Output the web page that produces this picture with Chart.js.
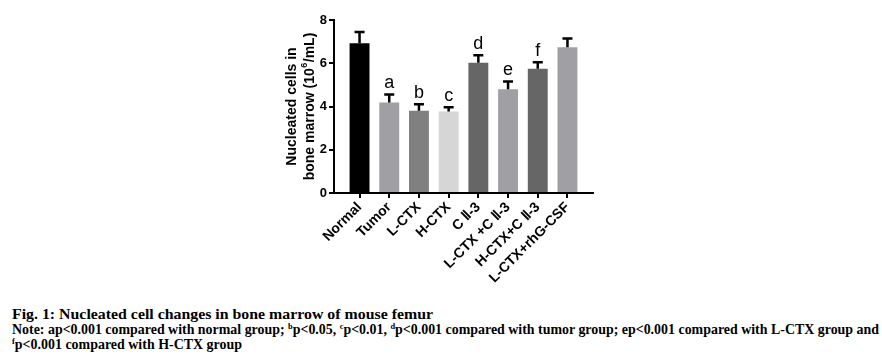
<!DOCTYPE html>
<html lang="en">
  <head>
    <meta charset="UTF-8" />
    <title>Nucleated cells</title>
    <script src="https://cdn.jsdelivr.net/npm/chart.js"></script>
    <style>
      html, body { margin: 0; padding: 0; background: #fff; }
      #wrap { position: relative; width: 882px; height: 363px; }
      #box { position: absolute; left: 0; top: 0; width: 882px; height: 300px; }
      .cap {
        position: absolute;
        left: 12px;
        font-family: "Liberation Serif", "Times New Roman", serif;
        font-weight: bold;
        font-size: 15px;
        line-height: 15px;
        white-space: nowrap;
        color: #000;
        transform-origin: 0 0;
      }
      .cap sup { font-size: 9px; vertical-align: 5px; line-height: 0; }
    </style>
  </head>
  <body>
    <div id="wrap">
      <div id="box"><canvas id="myChart"></canvas></div>
      <div class="cap" data-w="421" style="top:307px">Fig. 1: Nucleated cell changes in bone marrow of mouse femur</div>
      <div class="cap" data-w="867" style="top:322px">Note: ap&lt;0.001 compared with normal group; <sup>b</sup>p&lt;0.05, <sup>c</sup>p&lt;0.01, <sup>d</sup>p&lt;0.001 compared with tumor group; ep&lt;0.001 compared with L-CTX group and</div>
      <div class="cap" data-w="230" style="top:337px"><sup>f</sup>p&lt;0.001 compared with H-CTX group</div>
    </div>
    <script>
      // chart data
      const groups = ["Normal", "Tumor", "L-CTX", "H-CTX", "C \u2161-3", "L-CTX +C \u2161-3", "H-CTX+C \u2161-3", "L-CTX+rhG-CSF"];
      const means = [6.92, 4.18, 3.8, 3.77, 6.02, 4.8, 5.75, 6.74];
      const errors = [0.52, 0.38, 0.3, 0.2, 0.35, 0.36, 0.3, 0.4];
      const marks = ["", "a", "b", "c", "d", "e", "f", ""];
      const colors = ["#000000", "#a0a0a4", "#808080", "#d6d6d6", "#666666", "#a0a0a4", "#666666", "#a0a0a4"];
      const yTicks = [0, 2, 4, 6, 8];
      const yTitle = ["Nucleated cells in", "bone marrow (10", "6", "/mL)"];

      const points = means.map((v, i) => ({ x: i, y: v }));
      const sans = "'Liberation Sans', Arial, sans-serif";

      // error bars + significance letters
      const errorBars = {
        id: "errorBars",
        afterDatasetsDraw(chart) {
          const ctx = chart.ctx;
          const meta = chart.getDatasetMeta(0);
          const yScale = chart.scales.y;
          ctx.save();
          ctx.strokeStyle = "#000";
          ctx.fillStyle = "#000";
          ctx.lineWidth = 2.5;
          meta.data.forEach((bar, i) => {
            const top = yScale.getPixelForValue(means[i] + errors[i]);
            ctx.beginPath();
            ctx.moveTo(bar.x, bar.y);
            ctx.lineTo(bar.x, top);
            ctx.moveTo(bar.x - 5, top);
            ctx.lineTo(bar.x + 5, top);
            ctx.stroke();
            if (marks[i]) {
              ctx.font = "18px " + sans;
              ctx.textAlign = "center";
              ctx.textBaseline = "alphabetic";
              ctx.fillText(marks[i], bar.x, top - 6);
            }
          });
          ctx.restore();
        }
      };

      // two-line y title with a real superscript
      const yTitlePlugin = {
        id: "yTitle",
        afterDraw(chart) {
          const ctx = chart.ctx;
          const area = chart.chartArea;
          const cy = (area.top + area.bottom) / 2;
          const big = "bold 14px " + sans;
          const small = "bold 9px " + sans;
          ctx.save();
          ctx.fillStyle = "#000";
          ctx.textBaseline = "middle";
          ctx.translate(292.5, cy);
          ctx.rotate(-Math.PI / 2);
          ctx.font = big;
          ctx.textAlign = "center";
          ctx.fillText(yTitle[0], 0, 0);
          // second line
          ctx.font = big;
          const w1 = ctx.measureText(yTitle[1]).width;
          const w3 = ctx.measureText(yTitle[3]).width;
          ctx.font = small;
          const w2 = ctx.measureText(yTitle[2]).width + 1;
          let x = -(w1 + w2 + w3) / 2;
          const y = 17.5;
          ctx.textAlign = "left";
          ctx.font = big;
          ctx.fillText(yTitle[1], x, y);
          x += w1;
          ctx.font = small;
          ctx.fillText(yTitle[2], x + 0.5, y - 5);
          x += w2;
          ctx.font = big;
          ctx.fillText(yTitle[3], x, y);
          ctx.restore();
        }
      };

      const ctx = document.getElementById("myChart").getContext("2d");
      const myChart = new Chart(ctx, {
        type: "bar",
        data: {
          datasets: [{
            data: points,
            backgroundColor: colors,
            borderWidth: 0,
            categoryPercentage: 1,
            barPercentage: 0.67
          }]
        },
        options: {
          responsive: true,
          maintainAspectRatio: false,
          animation: false,
          layout: { padding: { left: 284, top: 20, right: 289, bottom: 0 } },
          plugins: { legend: { display: false }, tooltip: { enabled: false } },
          scales: {
            x: {
              type: "linear",
              offset: false,
              min: -0.86,
              max: 7.86,
              afterBuildTicks: (scale) => { scale.ticks = groups.map((g, i) => ({ value: i })); },
              afterFit: (scale) => { scale.height = 107; },
              grid: { display: true, offset: false, drawOnChartArea: false, drawTicks: true, tickLength: 5, color: "#000", lineWidth: 2 },
              border: { display: true, color: "#000", width: 2 },
              ticks: {
                autoSkip: false,
                minRotation: 45,
                maxRotation: 45,
                padding: 1,
                color: "#000",
                font: { family: sans, size: 14, weight: "bold" },
                callback: (v) => groups[v]
              }
            },
            y: {
              min: 0,
              max: 8,
              afterBuildTicks: (scale) => { scale.ticks = yTicks.map((v) => ({ value: v })); },
              afterFit: (scale) => { scale.width = 50; },
              grid: { display: true, drawOnChartArea: false, drawTicks: true, tickLength: 5, color: "#000", lineWidth: 2 },
              border: { display: true, color: "#000", width: 2 },
              ticks: {
                padding: 2,
                color: "#000",
                font: { family: sans, size: 13, weight: "bold" }
              }
            }
          }
        },
        plugins: [errorBars, yTitlePlugin]
      });

      // squeeze the caption lines to the widths in the figure
      document.querySelectorAll(".cap").forEach((el) => {
        const w = el.getBoundingClientRect().width;
        el.style.transform = "scaleX(" + (Number(el.dataset.w) / w) + ")";
      });
    </script>
  </body>
</html>
